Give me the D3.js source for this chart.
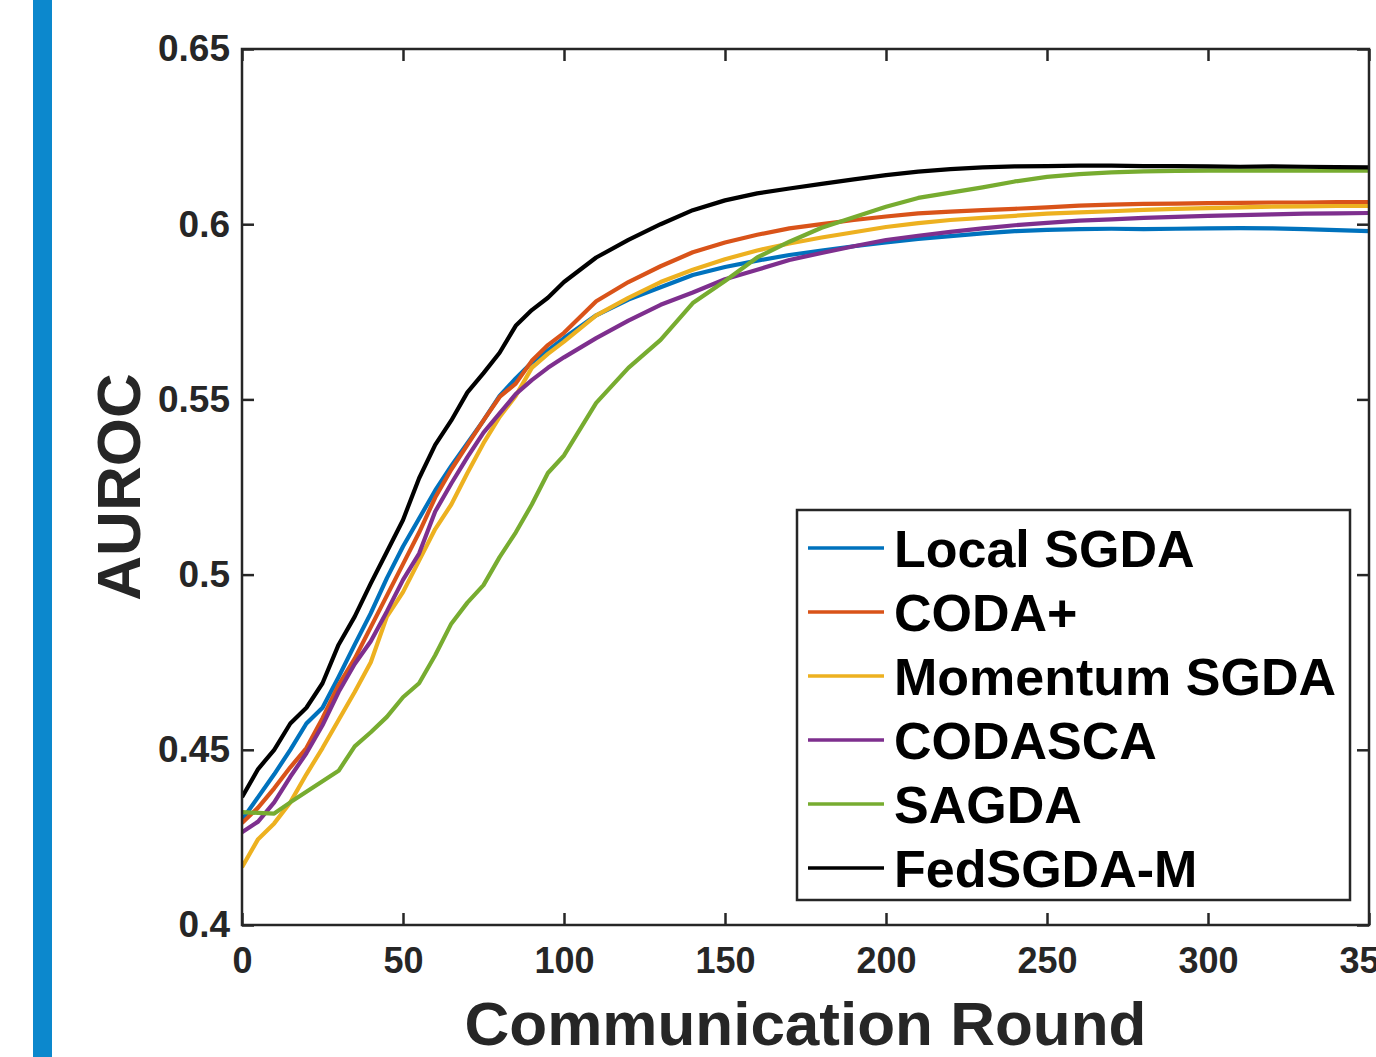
<!DOCTYPE html>
<html>
<head>
	<meta charset="utf-8">
	<title>AUROC vs Communication Round</title>
</head>

<style>
	body { margin:0; background:#fff; }
	text { font-family:"Liberation Sans", Arial, Helvetica, sans-serif; font-weight:bold; }
</style>

<body>
<script src="https://cdn.jsdelivr.net/npm/d3@7/dist/d3.min.js" charset="utf-8"></script>
<svg width="1376" height="1057"></svg>
<script>

	// communication rounds at which values were read
	var rounds = [0,5,10,15,20,25,30,35,40,45,50,55,60,65,70,75,80,85,90,95,100,
				  110,120,130,140,150,160,170,180,190,200,210,220,230,240,250,
				  260,270,280,290,300,310,320,330,340,350];

	var localSGDA = [0.4300,0.4365,0.4430,0.4500,0.4575,0.4620,0.4708,0.4800,0.4890,0.4990,0.5080,
					 0.5160,0.5240,0.5310,0.5375,0.5440,0.5510,0.5560,0.5605,0.5640,0.5675,
					 0.5740,0.5785,0.5820,0.5855,0.5878,0.5896,0.5912,0.5925,0.5937,0.5948,
					 0.5958,0.5966,0.5974,0.5980,0.5984,0.5986,0.5987,0.5986,0.5987,0.5988,
					 0.5989,0.5988,0.5986,0.5983,0.5980];

	var codaPlus = [0.4291,0.4335,0.4390,0.4450,0.4505,0.4590,0.4685,0.4760,0.4850,0.4940,0.5030,
					0.5120,0.5220,0.5300,0.5370,0.5440,0.5507,0.5545,0.5610,0.5655,0.5690,
					0.5780,0.5835,0.5880,0.5920,0.5948,0.5970,0.5988,0.6000,0.6012,0.6022,
					0.6031,0.6036,0.6040,0.6044,0.6048,0.6053,0.6056,0.6058,0.6059,0.6060,
					0.6061,0.6062,0.6062,0.6063,0.6063];

	var momentumSGDA = [0.4165,0.4245,0.4290,0.4350,0.4430,0.4505,0.4585,0.4665,0.4750,0.4880,0.4950,
						0.5040,0.5130,0.5200,0.5290,0.5375,0.5450,0.5510,0.5590,0.5630,0.5665,
						0.5740,0.5790,0.5835,0.5870,0.5900,0.5925,0.5945,0.5962,0.5977,0.5992,
						0.6003,0.6012,0.6018,0.6024,0.6030,0.6034,0.6037,0.6041,0.6044,0.6046,
						0.6048,0.6050,0.6051,0.6052,0.6052];

	var codasca = [0.4265,0.4295,0.4350,0.4423,0.4490,0.4570,0.4665,0.4745,0.4810,0.4895,0.4985,
				   0.5060,0.5180,0.5260,0.5335,0.5405,0.5460,0.5515,0.5555,0.5590,0.5620,
				   0.5675,0.5725,0.5770,0.5805,0.5843,0.5870,0.5898,0.5918,0.5937,0.5955,
				   0.5967,0.5978,0.5988,0.5997,0.6004,0.6010,0.6014,0.6018,0.6021,0.6024,
				   0.6026,0.6028,0.6030,0.6031,0.6032];

	var sagda = [0.4322,0.4320,0.4318,0.4350,0.4380,0.4410,0.4440,0.4510,0.4550,0.4594,0.4650,
				 0.4690,0.4770,0.4860,0.4920,0.4970,0.5050,0.5120,0.5200,0.5290,0.5340,
				 0.5490,0.5590,0.5670,0.5775,0.5838,0.5905,0.5950,0.5990,0.6020,0.6050,
				 0.6075,0.6090,0.6105,0.6122,0.6135,0.6143,0.6148,0.6151,0.6152,0.6153,
				 0.6153,0.6153,0.6153,0.6153,0.6153];

	var fedSGDAM = [0.4365,0.4445,0.4500,0.4575,0.4620,0.4690,0.4800,0.4880,0.4975,0.5065,0.5156,
					0.5275,0.5370,0.5440,0.5520,0.5575,0.5633,0.5710,0.5755,0.5790,0.5835,
					0.5905,0.5955,0.6000,0.6040,0.6068,0.6088,0.6102,0.6115,0.6128,0.6140,
					0.6150,0.6157,0.6162,0.6165,0.6166,0.6167,0.6167,0.6166,0.6166,0.6165,
					0.6164,0.6165,0.6164,0.6163,0.6162];

	var seriesNames = ["Local SGDA","CODA+","Momentum SGDA","CODASCA","SAGDA","FedSGDA-M"];
	var seriesValues = [localSGDA, codaPlus, momentumSGDA, codasca, sagda, fedSGDAM];
	var seriesColors = ["#0072BD","#D95319","#EDB120","#7E2F8E","#77AC30","#000000"];

	var xTicks = [0,50,100,150,200,250,300,350];
	var yTicks = [0.4,0.45,0.5,0.55,0.6,0.65];
	var yTickLabels = ["0.4","0.45","0.5","0.55","0.6","0.65"];

	var svg = d3.select("svg");
	var margin = {top:49,left:242,bottom:132,right:7};
	var width = +svg.attr("width")-margin.left-margin.right;
	var height = +svg.attr("height")-margin.top-margin.bottom;

	// blue bar on the left edge
	svg.append("rect")
	   .attr("x",33).attr("y",0)
	   .attr("width",19).attr("height",+svg.attr("height"))
	   .attr("fill","#0c88cd");

	var x = d3.scaleLinear().domain([0,350]).range([0,width]);
	var y = d3.scaleLinear().domain([0.4,0.65]).range([height,0]);

	var g = svg.append("g")
			   .attr("transform","translate("+ margin.left +","+ margin.top +")");

	g.append("clipPath").attr("id","clip")
	 .append("rect").attr("width",width).attr("height",height);

	var line = d3.line()
				 .x(function(d){ return x(d[0]); })
				 .y(function(d){ return y(d[1]); });

	g.append("g").attr("clip-path","url(#clip)")
	 .selectAll("path")
	 .data(seriesValues)
	 .enter()
	 .append("path")
	 .attr("fill","none")
	 .attr("stroke",function(d,i){ return seriesColors[i]; })
	 .attr("stroke-width",4.2)
	 .attr("stroke-linejoin","round")
	 .attr("d",function(vals){
		 return line(rounds.map(function(r,i){ return [r,vals[i]]; }));
	 });

	var axisColor = "#262626";

	function styleAxis(sel){
		sel.select(".domain").remove();
		sel.selectAll("line").attr("stroke",axisColor).attr("stroke-width",2.5);
		sel.selectAll("text").attr("fill",axisColor).style("font-size","36px");
	}

	g.append("g")
	 .attr("transform","translate(0,"+ height +")")
	 .call(d3.axisBottom(x).tickValues(xTicks).tickSizeInner(-12).tickSizeOuter(0).tickPadding(22).tickFormat(d3.format("d")))
	 .call(styleAxis);

	g.append("g")
	 .call(d3.axisTop(x).tickValues(xTicks).tickSizeInner(-12).tickSizeOuter(0).tickFormat(""))
	 .call(styleAxis);

	g.append("g")
	 .call(d3.axisLeft(y).tickValues(yTicks).tickSizeInner(-12).tickSizeOuter(0).tickPadding(12)
			 .tickFormat(function(d,i){ return yTickLabels[i]; }))
	 .call(styleAxis);

	g.append("g")
	 .attr("transform","translate("+ width +",0)")
	 .call(d3.axisRight(y).tickValues(yTicks).tickSizeInner(-12).tickSizeOuter(0).tickFormat(""))
	 .call(styleAxis);

	g.selectAll(".tick text").attr("font-family",null);
	g.selectAll(".tick text").filter(function(d){ return d === 0.4 || d === 0.45 || d === 0.5 || d === 0.55 || d === 0.6 || d === 0.65; })
	 .style("font-size","37px");

	g.append("rect")
	 .attr("width",width).attr("height",height)
	 .attr("fill","none")
	 .attr("stroke",axisColor).attr("stroke-width",2.5);

	// axis titles
	svg.append("text")
	   .attr("x",margin.left+width/2).attr("y",1045)
	   .attr("text-anchor","middle")
	   .attr("fill",axisColor)
	   .style("font-size","62px")
	   .text("Communication Round");

	svg.append("text")
	   .attr("transform","translate(140,"+ (margin.top+height/2) +") rotate(-90)")
	   .attr("text-anchor","middle")
	   .attr("fill",axisColor)
	   .style("font-size","62px")
	   .text("AUROC");

	// legend
	var legend = svg.append("g").attr("transform","translate(797,510)");
	legend.append("rect")
		  .attr("width",553).attr("height",390)
		  .attr("fill","#fff")
		  .attr("stroke",axisColor).attr("stroke-width",2.5);

	var item = legend.selectAll("g.item")
					 .data(seriesNames)
					 .enter()
					 .append("g")
					 .attr("class","item")
					 .attr("transform",function(d,i){ return "translate(0,"+ (38+i*64) +")"; });

	item.append("line")
		.attr("x1",11).attr("x2",87)
		.attr("stroke",function(d,i){ return seriesColors[i]; })
		.attr("stroke-width",3.5);

	item.append("text")
		.attr("x",97).attr("dy","0.36em")
		.attr("fill","#000")
		.style("font-size","52px")
		.text(function(d){ return d; });

</script>
</body>
</html>
